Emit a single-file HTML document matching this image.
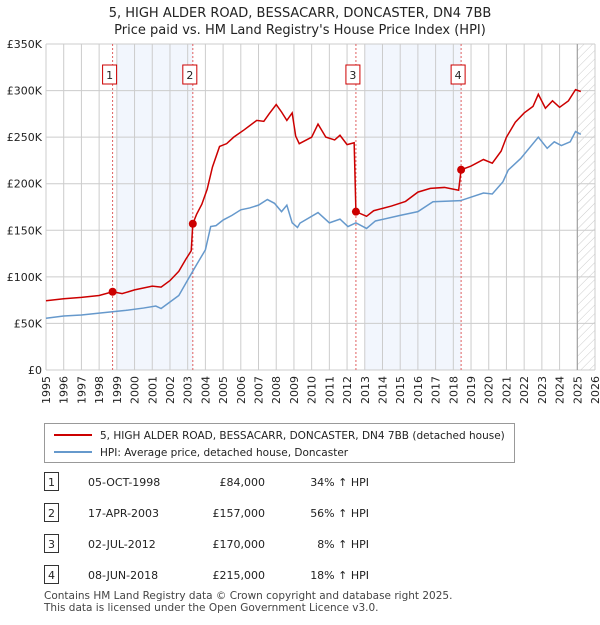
<!DOCTYPE html>
<html><head><meta charset="utf-8"><style>
body{margin:0;background:#fff;font-family:"Liberation Sans","DejaVu Sans",sans-serif;}
svg text{font-family:"DejaVu Sans","Liberation Sans",sans-serif;}
</style></head><body>
<svg id="c" width="600" height="620" viewBox="0 0 600 620" xmlns="http://www.w3.org/2000/svg">
<defs><pattern id="hatch" width="6" height="6" patternUnits="userSpaceOnUse" patternTransform="rotate(45)"><line x1="0" y1="0" x2="0" y2="6" stroke="#ccc" stroke-width="1"/></pattern></defs>
<text x="300" y="17" text-anchor="middle" font-size="13" fill="#222">5, HIGH ALDER ROAD, BESSACARR, DONCASTER, DN4 7BB</text>
<text x="300" y="34" text-anchor="middle" font-size="13" fill="#222">Price paid vs. HM Land Registry's House Price Index (HPI)</text>
<g id="plot"></g>
<g>
<rect x="44.5" y="423.5" width="470" height="39" fill="#fff" stroke="#999"/>
<line x1="54" y1="435" x2="92" y2="435" stroke="#cc0000" stroke-width="2"/>
<text x="100" y="439" font-size="10.5" fill="#222">5, HIGH ALDER ROAD, BESSACARR, DONCASTER, DN4 7BB (detached house)</text>
<line x1="54" y1="452" x2="92" y2="452" stroke="#6699cc" stroke-width="2"/>
<text x="100" y="456" font-size="10.5" fill="#222">HPI: Average price, detached house, Doncaster</text>
</g>
<g id="table" font-size="11" fill="#222"></g>
<text x="44" y="599" font-size="10.5" fill="#444">Contains HM Land Registry data © Crown copyright and database right 2025.</text>
<text x="44" y="611" font-size="10.5" fill="#444">This data is licensed under the Open Government Licence v3.0.</text>
</svg>
<script>
const hpiYears=[1995,1996,1997,1998,1998.75,1999.5,2000.5,2001.2,2001.5,2002,2002.5,2003,2003.5,2004,2004.3,2004.6,2005,2005.5,2006,2006.5,2007,2007.5,2007.9,2008.3,2008.6,2008.9,2009.2,2009.34,2010.36,2011,2011.6,2012.05,2012.5,2013.1,2013.6,2015,2016,2016.85,2018.4,2019.7,2020.2,2020.8,2021.1,2021.8,2022.8,2023.3,2023.7,2024.1,2024.6,2024.9,2025.2];
const hpiValues=[55.5,58,59,61,62.6,64,66.5,68.7,66,73,80,96.6,113,129,154,155,161,166,172,174,177,183,179,170,177,158,153,157.7,169,158,162,154,158,152,160,166,170,180.7,181.8,190,189,202,214.7,227,250,238,245,241,245,256,253];
const priceYears=[1995,1996,1997,1998,1998.76,1999.3,2000,2001,2001.5,2002,2002.5,2002.9,2003.2,2003.29,2003.5,2003.8,2004.1,2004.4,2004.8,2005.2,2005.6,2006.2,2006.9,2007.3,2007.6,2008,2008.3,2008.6,2008.9,2009.1,2009.3,2010,2010.36,2010.8,2011.3,2011.6,2012,2012.4,2012.5,2013.1,2013.5,2014.5,2015.3,2016,2016.7,2017.5,2018.3,2018.44,2019,2019.7,2020.2,2020.7,2021,2021.5,2022,2022.5,2022.8,2023.2,2023.6,2024,2024.5,2024.9,2025.2];
const priceValues=[74.4,76.5,78,80,84,82,86,90,89,96,106,119,128,157,167,178,194,218,240,243,250,258,268,267,275,285,277,268,276,251,243,250,264,250,247,252,242,244,170,165,171,176,181,191,195,196,193,215,219,226,222,235,250,266,276,283,296,281,289,282,289,301,299];
const saleLabels=["1","2","3","4"];
const saleYears=[1998.76,2003.29,2012.5,2018.44];
const saleValues=[84,157,170,215];
const saleDates=["05-OCT-1998","17-APR-2003","02-JUL-2012","08-JUN-2018"];
const salePrices=["£84,000","£157,000","£170,000","£215,000"];
const saleHpi=["34% ↑ HPI","56% ↑ HPI","8% ↑ HPI","18% ↑ HPI"];
const yTicks=[0,50,100,150,200,250,300,350];
const yTickLabels=["£0","£50K","£100K","£150K","£200K","£250K","£300K","£350K"];
const xTicks=[];for(let y=1995;y<=2026;y++)xTicks.push(y);

const NS="http://www.w3.org/2000/svg";
const X0=46,X1=595,Y0=370,Y1=44;
const xs=y=>X0+(y-1995)*(X1-X0)/31;
const ys=v=>Y0-v*(Y0-Y1)/350;
const plot=document.getElementById('plot');
function mk(tag,attrs,parent){const e=document.createElementNS(NS,tag);for(const k in attrs)e.setAttribute(k,attrs[k]);(parent||plot).appendChild(e);return e;}
let e;
e=mk('rect',{x:X0,y:Y1,width:X1-X0,height:Y0-Y1,fill:'#fff'});


e=mk('rect',{x:xs(1999),y:Y1,width:xs(saleYears[1])-xs(1999),height:Y0-Y1,fill:'#eef3fc',opacity:0.75});


e=mk('rect',{x:xs(2013),y:Y1,width:xs(saleYears[3])-xs(2013),height:Y0-Y1,fill:'#eef3fc',opacity:0.75});


e=mk('rect',{x:xs(2025),y:Y1,width:X1-xs(2025),height:Y0-Y1,fill:'url(#hatch)'});


xTicks.forEach(t=>{
  e=mk('line',{x1:xs(t),x2:xs(t),y1:Y1,y2:Y0,stroke:'#ccc','stroke-width':1});
  
  
  e=mk('text',{x:xs(t),y:0,'font-size':11,fill:'#222','text-anchor':'end',transform:`translate(${xs(t)+4},${Y0+6}) rotate(-90) translate(${-xs(t)},0)`});
  e.textContent=t;
  
  
});
yTicks.forEach((t,i)=>{
  e=mk('line',{x1:X0,x2:X1,y1:ys(t),y2:ys(t),stroke:'#ccc','stroke-width':1});
  
  
  e=mk('text',{x:X0-4,y:ys(t)+4,'font-size':11,fill:'#222','text-anchor':'end'});
  e.textContent=yTickLabels[i];
  
  
});
e=mk('line',{x1:xs(2025),x2:xs(2025),y1:Y1,y2:Y0,stroke:'#999','stroke-width':1});


saleYears.forEach((s,i)=>{
  e=mk('line',{x1:xs(s),x2:xs(s),y1:Y1,y2:Y0,stroke:'#e06060','stroke-width':1,'stroke-dasharray':'2,2'});
  
  
  e=mk('rect',{x:xs(s)-10,y:65,width:14,height:19,fill:'#fff',stroke:'#cc0000'});
  
  
  e=mk('text',{x:xs(s)-3,y:79,'font-size':11,fill:'#222','text-anchor':'middle'});
  e.textContent=saleLabels[i];
  
  
});
e=mk('polyline',{points:hpiYears.map((y,i)=>xs(y)+','+ys(hpiValues[i])).join(' '),fill:'none',stroke:'#6699cc','stroke-width':1.5});


e=mk('polyline',{points:priceYears.map((y,i)=>xs(y)+','+ys(priceValues[i])).join(' '),fill:'none',stroke:'#cc0000','stroke-width':1.5});


saleYears.forEach((s,i)=>{
  e=mk('circle',{cx:xs(s),cy:ys(saleValues[i]),r:4,fill:'#cc0000'});
  
  
});
const tb=document.getElementById('table');
const rowY=[483,514,545,576];
saleLabels.forEach((l,i)=>{
  const y=rowY[i];
  e=mk('rect',{x:44.5,y:y-10.5,width:14,height:18,fill:'#fff',stroke:'#333'},tb);
  
  
  e=mk('text',{x:51.5,y:y+3,'text-anchor':'middle'},tb);e.textContent=l;
  
  
  e=mk('text',{x:88,y:y+3},tb);e.textContent=saleDates[i];
  
  
  e=mk('text',{x:265,y:y+3,'text-anchor':'end'},tb);e.textContent=salePrices[i];
  
  
  e=mk('text',{x:369,y:y+3,'text-anchor':'end'},tb);e.textContent=saleHpi[i];
  
  
});
</script>
</body></html>
